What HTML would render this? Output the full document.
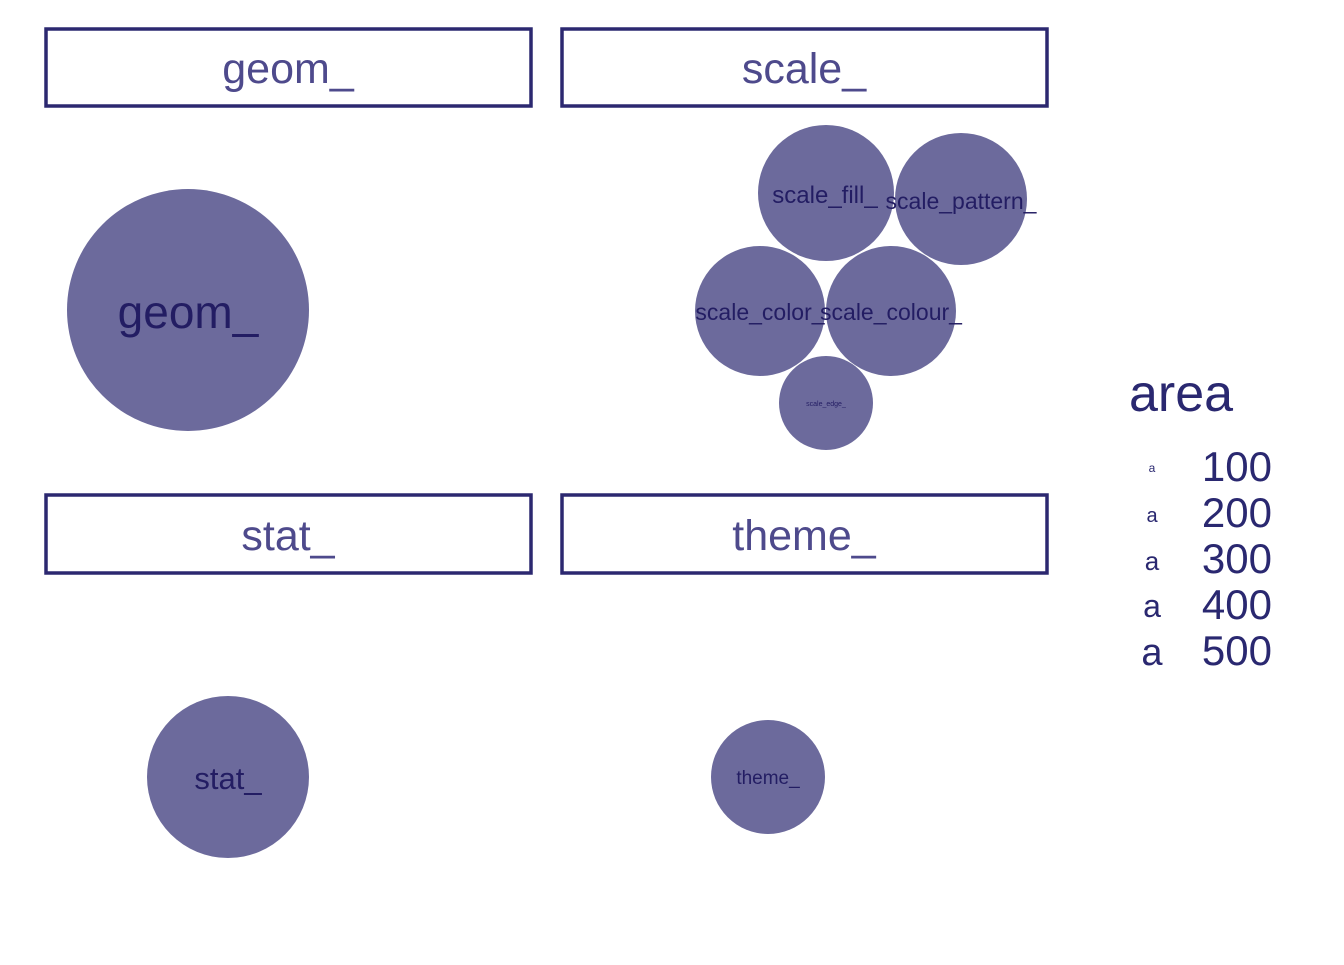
<!DOCTYPE html>
<html><head><meta charset="utf-8"><style>body{margin:0;background:#fff}</style></head><body>
<svg width="1344" height="960" xmlns="http://www.w3.org/2000/svg" font-family="Liberation Sans, sans-serif">
<rect width="1344" height="960" fill="#fff"/>
<g fill="none" stroke="#2c2870" stroke-width="3.5">
<rect x="46" y="29" width="485" height="77"/>
<rect x="562" y="29" width="485" height="77"/>
<rect x="46" y="495" width="485" height="78"/>
<rect x="562" y="495" width="485" height="78"/>
</g>
<g fill="#4e4a8c" font-size="43" text-anchor="middle">
<text x="288" y="83">geom_</text>
<text x="804" y="83">scale_</text>
<text x="288" y="550">stat_</text>
<text x="804" y="550">theme_</text>
</g>
<g fill="#6c6a9c">
<circle cx="188" cy="310" r="121"/>
<circle cx="826" cy="193" r="68"/>
<circle cx="961" cy="199" r="66"/>
<circle cx="760" cy="311" r="65"/>
<circle cx="891" cy="311" r="65"/>
<circle cx="826" cy="403" r="47"/>
<circle cx="228" cy="777" r="81"/>
<circle cx="768" cy="777" r="57"/>
</g>
<g fill="#231d63" text-anchor="middle">
<text x="188" y="328" font-size="46">geom_</text>
<text x="825" y="203" font-size="24">scale_fill_</text>
<text x="961" y="209" font-size="23">scale_pattern_</text>
<text x="760" y="320" font-size="23">scale_color_</text>
<text x="891" y="320" font-size="23">scale_colour_</text>
<text x="826" y="406" font-size="7">scale_edge_</text>
<text x="228" y="789" font-size="31">stat_</text>
<text x="768" y="784" font-size="19">theme_</text>
</g>
<g fill="#2a2870">
<text x="1129" y="411" font-size="52">area</text>
<g text-anchor="middle">
<text x="1152" y="472" font-size="12">a</text>
<text x="1152" y="522" font-size="20">a</text>
<text x="1152" y="570" font-size="26">a</text>
<text x="1152" y="617" font-size="32">a</text>
<text x="1152" y="665" font-size="38">a</text>
</g>
<g text-anchor="end" font-size="42">
<text x="1272" y="481">100</text>
<text x="1272" y="527">200</text>
<text x="1272" y="573">300</text>
<text x="1272" y="619">400</text>
<text x="1272" y="665">500</text>
</g>
</g>
</svg>
</body></html>
